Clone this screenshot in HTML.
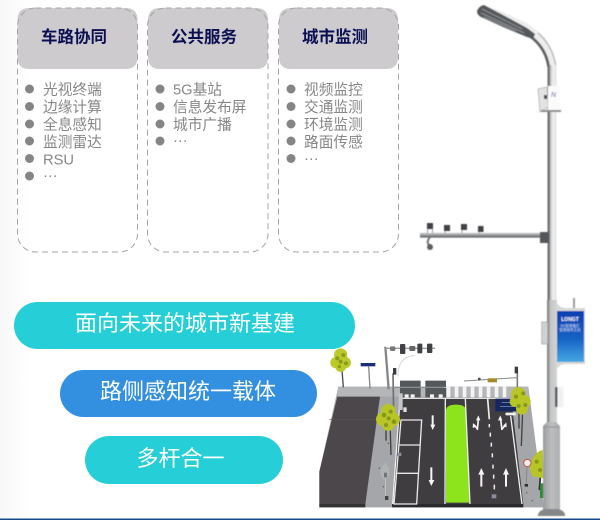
<!DOCTYPE html>
<html><head><meta charset="utf-8">
<style>
html,body{margin:0;padding:0;background:#fff}
body{width:600px;height:520px;overflow:hidden;position:relative;font-family:"Liberation Sans","Noto Sans CJK SC",sans-serif}
svg{position:absolute;left:0;top:0;display:block}
</style></head><body>
<svg width="600" height="520" viewBox="0 0 600 520" xmlns="http://www.w3.org/2000/svg" font-family="'Liberation Sans','Noto Sans CJK SC',sans-serif">
<defs>
<linearGradient id="bgl" x1="0" x2="1" y1="0" y2="0"><stop offset="0" stop-color="#f8f8f8"/><stop offset="1" stop-color="#fff"/></linearGradient>
<linearGradient id="pole" gradientUnits="userSpaceOnUse" x1="547.500" x2="556.500" y1="0" y2="0"><stop offset="0" stop-color="#66686b"/><stop offset=".22" stop-color="#77797c"/><stop offset=".35" stop-color="#c8c9ca"/><stop offset=".6" stop-color="#f0f0f0"/><stop offset="1" stop-color="#e2e3e3"/></linearGradient>
<linearGradient id="pole2" gradientUnits="userSpaceOnUse" x1="547" x2="557" y1="0" y2="0"><stop offset="0" stop-color="#808285"/><stop offset=".2" stop-color="#909295"/><stop offset=".3" stop-color="#c4c5c6"/><stop offset="1" stop-color="#d2d3d3"/></linearGradient>
<linearGradient id="pole3" gradientUnits="userSpaceOnUse" x1="543" x2="560" y1="0" y2="0"><stop offset="0" stop-color="#9a9c9e"/><stop offset=".5" stop-color="#bcbdbe"/><stop offset="1" stop-color="#adafb0"/></linearGradient>
<linearGradient id="scr" x1="0" x2="0" y1="0" y2="1"><stop offset="0" stop-color="#0e3fb0"/><stop offset=".55" stop-color="#1763c4"/><stop offset="1" stop-color="#46a8e2"/></linearGradient>
<linearGradient id="arm" x1="0" x2="0" y1="0" y2="1"><stop offset="0" stop-color="#d0d1d2"/><stop offset=".4" stop-color="#a2a4a6"/><stop offset="1" stop-color="#55575a"/></linearGradient>
<filter id="b1" x="-5%" y="-5%" width="110%" height="110%"><feGaussianBlur stdDeviation=".45"/></filter>
<filter id="b2" x="-5%" y="-5%" width="110%" height="110%"><feGaussianBlur stdDeviation=".35"/></filter>
</defs>
<rect width="600" height="520" fill="#fff"/>
<rect width="30" height="519" fill="url(#bgl)"/>

<!-- Cards -->
<g>
<path d="M17.500 20Q17.500 8 29.500 8H125.500Q137.500 8 137.500 20V57Q137.500 69 125.500 69H29.500Q17.500 69 17.500 57Z" fill="#cdcbcd"/>
<rect x="17.500" y="8" width="120" height="244" rx="18" fill="none" stroke="#a4a4a4" stroke-width="1" stroke-dasharray="6 4"/>
<path d="M148 20Q148 8 160 8H256Q268 8 268 20V57Q268 69 256 69H160Q148 69 148 57Z" fill="#cdcbcd"/>
<rect x="147.500" y="8" width="120.500" height="244" rx="18" fill="none" stroke="#a4a4a4" stroke-width="1" stroke-dasharray="6 4"/>
<path d="M279 20Q279 8 291 8H386Q398 8 398 20V57Q398 69 386 69H291Q279 69 279 57Z" fill="#cdcbcd"/>
<rect x="278.500" y="8" width="120" height="244" rx="18" fill="none" stroke="#a4a4a4" stroke-width="1" stroke-dasharray="6 4"/>
</g>
<g font-size="16.500" font-weight="700" fill="#0b0f52" text-anchor="middle">
<text x="74" y="42.500">车路协同</text>
<text x="204" y="42.500">公共服务</text>
<text x="335" y="42.500">城市监测</text>
</g>
<g fill="#858585">
<circle cx="29.500" cy="89" r="4.500"/><circle cx="29.500" cy="106.500" r="4.500"/><circle cx="29.500" cy="124" r="4.500"/><circle cx="29.500" cy="141" r="4.500"/><circle cx="29.500" cy="158.500" r="4.500"/><circle cx="29.500" cy="176" r="4.500"/>
<circle cx="160" cy="89" r="4.500"/><circle cx="160" cy="106.500" r="4.500"/><circle cx="160" cy="124" r="4.500"/><circle cx="160" cy="141" r="4.500"/>
<circle cx="291" cy="89" r="4.500"/><circle cx="291" cy="106.500" r="4.500"/><circle cx="291" cy="124" r="4.500"/><circle cx="291" cy="141" r="4.500"/><circle cx="291" cy="158.500" r="4.500"/>
</g>
<g font-size="14.700" fill="#878787">
<text x="43" y="94.500">光视终端</text><text x="43" y="112">边缘计算</text><text x="43" y="129.500">全息感知</text><text x="43" y="147">监测雷达</text><text x="43" y="164.500">RSU</text><text x="43" y="180">···</text>
<text x="173" y="94.500">5G基站</text><text x="173" y="112">信息发布屏</text><text x="173" y="129.500">城市广播</text><text x="173" y="145">···</text>
<text x="304" y="94.500">视频监控</text><text x="304" y="112">交通监测</text><text x="304" y="129.500">环境监测</text><text x="304" y="147">路面传感</text><text x="304" y="163">···</text>
</g>

<!-- Pills -->
<rect x="14" y="302" width="341" height="47" rx="23.500" fill="#26cfd8"/>
<rect x="60" y="370" width="257" height="47" rx="23.500" fill="#338fe0"/>
<rect x="85" y="436" width="198" height="48" rx="24" fill="#26cfd8"/>
<g font-size="22" fill="#fff" text-anchor="middle">
<text x="185" y="331">面向未来的城市新基建</text>
<text x="188" y="399">路侧感知统一载体</text>
<text x="180.500" y="466">多杆合一</text>
</g>

<!-- Road scene (zoomed coordinates: 3 units = 1px) -->
<g transform="translate(320 330) scale(.33333)" filter="url(#b2)">
<path d="M55 170H625L672 532H-2V425Z" fill="#a4a6a9"/>
<path d="M55 170H625L628 200H52Z" fill="#b4b6b8"/>
<path d="M52 200H180L136 522H-2V425Z" fill="#4b474b"/>
<path d="M28 268H165" stroke="#5b575b" stroke-width="2"/>
<path d="M-2 522H136V532H-2Z" fill="#353235"/>
<path d="M240 207H574L610 522H218Z" fill="#3f3c3f"/>
<path d="M216 522H610V532H216Z" fill="#2c2a2d"/>
<path d="M240 152h62v50h-62zM316 152h62v50h-62z" fill="#55585a"/>
<path d="M218 172H380" stroke="#c6c7c8" stroke-width="3"/>
<g fill="#f4f4f4">
<path d="M254 193h12v10h-12zM272 193h12v10h-12zM330 193h12v10h-12zM356 193h12v10h-12z"/>
<path d="M380 170h11v32h-11zM404 170h11v32h-11zM428 170h11v32h-11zM452 170h11v32h-11zM476 170h11v32h-11zM500 170h11v32h-11zM524 170h11v32h-11zM548 170h11v32h-11z"/>
</g>
<path d="M238 205H576" stroke="#e9e9e9" stroke-width="3"/>
<path d="M378 240Q380 224 408 224Q436 224 438 240L448 518H378Z" fill="#8de31c"/>
<path d="M376 207L375 522M436 207L450 522" stroke="#eee" stroke-width="4" fill="none"/>
<path d="M240 207L218 522M572 258L606 522" stroke="#eee" stroke-width="4" fill="none"/>
<path d="M503 207L508 268" stroke="#eee" stroke-width="5"/>
<path d="M508 282v10M511 308v12M514 338v12M517 370v12M519 404v12M521 434v12M523 464v14" stroke="#eee" stroke-width="4.500"/>
<path d="M243 270H305L290 522H222ZM238 345H300M232 430H294" fill="none" stroke="#e9e9e9" stroke-width="4"/>
<g fill="#f5f5f5">
<path d="M335 256h6v28h5l-8 16-7-16h4zM331 412h6v38h6l-9 18-8-18h5z"/>
<path d="M481 470V434h-6l9-20 9 20h-6v36zM555 470V434h-6l9-20 9 20h-6v36z"/>
</g>
<g fill="none" stroke="#f5f5f5" stroke-width="5">
<path d="M472 300L475 268M472 296L462 284"/>
<path d="M546 300L542 268M547 296L557 284"/>
</g>
<g fill="#f5f5f5">
<path d="M475 256l-7 15h13zM541 256l-7 15h13zM458 294l1-15 10 11zM560 292l-1-15-10 11z"/>
</g>
<path d="M515 493h14v12h-14z" fill="#8f8a9c"/>
<g fill="#6a6b6e"><circle cx="178" cy="415" r="2.500"/><circle cx="190" cy="470" r="2.500"/><circle cx="620" cy="488" r="2.500"/><circle cx="637" cy="512" r="2.500"/><circle cx="205" cy="340" r="2.500"/></g>
<path d="M196 50L206 178" stroke="#85878a" stroke-width="7"/>
<path d="M196 55H345" stroke="#9a9c9e" stroke-width="4"/>
<g fill="#3f4245"><rect x="210" y="49" width="16" height="14" rx="4" fill="#777"/><rect x="240" y="42" width="16" height="30" rx="3"/><rect x="268" y="48" width="18" height="15" rx="3" fill="#666"/><rect x="292" y="41" width="15" height="29" rx="3"/><rect x="321" y="41" width="16" height="28" rx="3"/></g>
<path d="M234 140Q232 80 285 76" fill="none" stroke="#d8d8d8" stroke-width="3"/>
<path d="M219 130L221 250" stroke="#6f7174" stroke-width="5"/>
<rect x="219" y="114" width="10" height="20" fill="#3a3d40"/>
<path d="M215 172H372" stroke="#85878a" stroke-width="3"/>
<path d="M236 190h12v50h-12z" fill="#c3c6cb"/>
<rect x="250" y="232" width="10" height="14" fill="#dfe0e2"/>
<path d="M592 120V172" stroke="#7a7c7f" stroke-width="5"/>
<rect x="584" y="110" width="10" height="20" fill="#3a3d40"/>
<path d="M432 153L592 143" stroke="#85878a" stroke-width="3"/>
<rect x="503" y="145" width="28" height="12" fill="#a38a2c"/>
<circle cx="478" cy="147" r="4" fill="#444"/>
<rect x="122" y="99" width="44" height="10" fill="#1f2d7a"/>
<path d="M146 109L150 176" stroke="#888" stroke-width="4"/>
<rect x="526" y="206" width="65" height="38" fill="#17265f"/>
<path d="M545 218h30M540 230h40" stroke="#9aa4d0" stroke-width="2"/>
<path d="M560 252h24" stroke="#f0f0f0" stroke-width="8" stroke-linecap="round"/>
<!-- trees -->
<path d="M66 120L70 172" stroke="#4c4c4c" stroke-width="4"/>
<g fill="#bcc92a"><circle cx="62" cy="75" r="20"/><circle cx="48" cy="98" r="17"/><circle cx="76" cy="98" r="17"/><circle cx="62" cy="110" r="16"/></g>
<g fill="#8a9a1a"><circle cx="52" cy="85" r="6"/><circle cx="70" cy="75" r="6"/><circle cx="78" cy="100" r="6"/><circle cx="58" cy="110" r="5"/><circle cx="62" cy="95" r="6"/></g>
<path d="M198 290V332M210 270L213 375" stroke="#3f3f3f" stroke-width="4"/>
<g fill="#b7c628"><circle cx="205" cy="244" r="22"/><circle cx="188" cy="268" r="20"/><circle cx="220" cy="268" r="20"/><circle cx="205" cy="284" r="19"/></g>
<g fill="#87971a"><circle cx="192" cy="255" r="7"/><circle cx="212" cy="245" r="6"/><circle cx="222" cy="275" r="7"/><circle cx="198" cy="285" r="6"/><circle cx="206" cy="265" r="6"/></g>
<path d="M597 240V296M608 240L604 348" stroke="#3f3f3f" stroke-width="4"/>
<g fill="#b7c628"><circle cx="595" cy="192" r="21"/><circle cx="612" cy="215" r="20"/><circle cx="585" cy="215" r="16"/><circle cx="606" cy="236" r="18"/></g>
<g fill="#87971a"><circle cx="588" cy="200" r="6"/><circle cx="610" cy="190" r="6"/><circle cx="616" cy="225" r="6"/><circle cx="596" cy="228" r="6"/></g>
<path d="M662 430L658 480" stroke="#2e2e2e" stroke-width="5"/>
<path d="M668 360L672 445L640 440Q624 420 634 395Q646 365 668 360Z" fill="#b7c628"/>
<g fill="#87971a"><circle cx="650" cy="395" r="6"/><circle cx="660" cy="420" r="6"/></g>
<rect x="660" y="460" width="12" height="44" fill="#2f8a3a"/>
<path d="M622 400L618 470" stroke="#888" stroke-width="3"/>
<circle cx="622" cy="399" r="11" fill="#eee" stroke="#c9553f" stroke-width="3"/>
<rect x="614" y="462" width="10" height="8" fill="#333"/>
<path d="M196 400V505" stroke="#cfcfcf" stroke-width="2"/>
<ellipse cx="195" cy="425" rx="13" ry="22" fill="#b0b2b4"/>
<rect x="192" y="428" width="9" height="14" fill="#70757a"/>
<rect x="195" y="498" width="10" height="12" fill="#444"/>
<rect x="232" y="368" width="12" height="10" fill="#8b8fa0"/>
</g>

<!-- Lamp + upper pole -->
<g filter="url(#b1)">
<path d="M485 5L503 12L527 23L538 31Q553 44 556 67V110H547.500V67Q547 52 533 38Z" fill="#ededed"/>
<path d="M538 33Q553 46 556 67" fill="none" stroke="#bcbdbf" stroke-width="1.500"/>
<path d="M530 36Q546 48 548.700 67" fill="none" stroke="#606266" stroke-width="2.800"/>
<path d="M477 11Q479 6 484 5L503 15L527 28L535 34L533 39L527 37L503 27L481 17Q477 15 477 11Z" fill="#55585b"/>
<path d="M482 9L522 29M481 13L524 33M484 17L516 31" stroke="#8f9194" stroke-width="1"/>
<rect x="547.500" y="65" width="9" height="240" fill="url(#pole)"/>
<path d="M538 89L547 87L548 107L540 112Z" fill="#e3e3e3" stroke="#a9abad" stroke-width=".7"/>
<rect x="544" y="95" width="3" height="4" fill="#44464a"/>
<rect x="548" y="86" width="12" height="24" fill="#fbfbfb"/>
<text x="553.500" y="97" font-size="7" fill="#4a4fa8" text-anchor="middle" font-style="italic">N</text>
<rect x="541" y="110" width="20" height="2" fill="#8b8d8f"/>
<rect x="420" y="232.800" width="122" height="4.800" fill="url(#arm)"/>
<rect x="540" y="232" width="9" height="11" fill="#55575a"/>
<g fill="#3f4144"><rect x="427" y="223" width="6" height="6"/><rect x="444" y="225" width="6" height="6"/><rect x="461" y="224" width="6" height="6"/><rect x="478" y="226" width="5.500" height="6"/></g>
<g fill="none" stroke="#9b9d9f" stroke-width="1"><path d="M427.500 229v4M432.500 229v4M445 231v2M462 230v3M479 232v1"/></g>
<path d="M430 237Q426 242 429 245" fill="none" stroke="#77797c" stroke-width="2"/>
<circle cx="430" cy="247" r="3" fill="#5d5f62"/>
<rect x="547" y="300" width="10" height="125" fill="url(#pole2)"/>
<path d="M543 426L547 422H556L560 426V512H543Z" fill="url(#pole3)"/>
<path d="M543.500 427H559.500" stroke="#919396" stroke-width="1"/>
<path d="M538 514Q540 510 545 509H558Q563 510 565 514V516H538Z" fill="#85878a"/>
<rect x="541.700" y="322" width="6" height="22" fill="#d0d1d2" stroke="#9d9fa1" stroke-width=".7"/>
<rect x="555" y="387" width="8.500" height="20" fill="#f1f1f1"/>
<rect x="555" y="387" width="2.500" height="20" fill="#55575a"/>
<path d="M556 300Q558 308 566 308H585V364H566Q558 364 556 372Z" fill="#d7d8d8"/>
<rect x="557" y="311" width="27" height="51" fill="url(#scr)"/>
<rect x="573" y="298" width="2" height="10" fill="#9c9ea0"/>
<text x="570" y="321" font-size="5" fill="#fff" text-anchor="middle" font-weight="700">LONGT</text>
<text x="570" y="327" font-size="3.500" fill="#dce6ff" text-anchor="middle">5G智慧路灯</text>
<text x="570" y="331" font-size="3.500" fill="#dce6ff" text-anchor="middle">智慧城市之光</text>
</g>
<rect x="0" y="518.500" width="600" height="1.500" fill="#174a8c"/>
</svg>
</body></html>
